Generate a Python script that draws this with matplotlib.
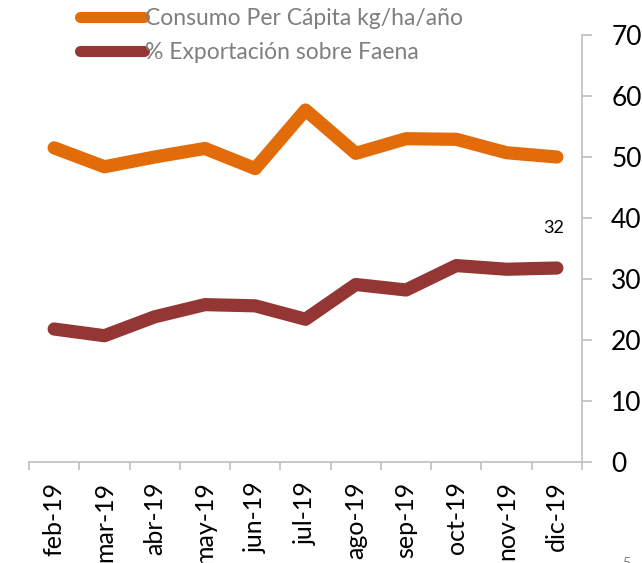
import matplotlib
matplotlib.use("Agg")
import matplotlib.pyplot as plt
import numpy as np

plt.rcParams['font.family'] = ['Lato', 'DejaVu Sans']

months = ["feb-19", "mar-19", "abr-19", "may-19", "jun-19", "jul-19",
          "ago-19", "sep-19", "oct-19", "nov-19", "dic-19"]
consumo = [51.5, 48.4, 50.0, 51.4, 48.1, 57.7, 50.6, 53.0, 52.9, 50.7, 50.0]
export_pct = [21.8, 20.7, 23.8, 25.8, 25.6, 23.4, 29.1, 28.2, 32.2, 31.6, 31.8]
label_consumo = "Consumo Per Cápita kg/ha/año"
label_export = "% Exportación sobre Faena"
last_label = "32"

ORANGE = "#E36C0A"
RED = "#943634"
GRAY = "#BFBFBF"

W, H = 642, 563
fig = plt.figure(figsize=(W / 100, H / 100), dpi=100)
ax = fig.add_axes([29 / W, 1 - 462 / H, (582 - 29) / W, (462 - 35) / H])

x = np.arange(len(months))
lw = 9.5
ax.plot(x, consumo, color=ORANGE, lw=lw, solid_capstyle='round',
        solid_joinstyle='round', label=label_consumo)
ax.plot(x, export_pct, color=RED, lw=lw, solid_capstyle='round',
        solid_joinstyle='round', label=label_export)

ax.annotate(last_label, (x[-1], export_pct[-1]), xytext=(-2, 29),
            textcoords='offset points', ha='center', va='center', fontsize=13,
            color='black')

ax.set_xlim(-0.5, len(months) - 0.5)
ax.set_ylim(0, 70)
ax.set_yticks(np.arange(0, 71, 10))

ax.yaxis.tick_right()
ax.tick_params(axis='y', which='major', length=7, width=1.2, color=GRAY,
               labelsize=19, pad=14, labelcolor='black')

ax.set_xticks(np.arange(-0.5, len(months), 1.0))
ax.set_xticklabels([])
ax.set_xticks(x, minor=True)
ax.set_xticklabels(months, minor=True, rotation=90, fontsize=18)
ax.tick_params(axis='x', which='major', length=6, width=1.2, color=GRAY)
ax.tick_params(axis='x', which='minor', length=0, pad=14)

for s in ['top', 'left']:
    ax.spines[s].set_visible(False)
for s in ['right', 'bottom']:
    ax.spines[s].set_color(GRAY)
    ax.spines[s].set_linewidth(1.2)

leg = ax.legend(loc='upper left', bbox_to_anchor=(80 / W, 1 - 8 / H),
                bbox_transform=fig.transFigure, frameon=False, fontsize=16.5,
                handlelength=2.8, handletextpad=0.05, labelspacing=0.55,
                borderpad=0, borderaxespad=0)
for t in leg.get_texts():
    t.set_color('#7F7F7F')
for l in leg.get_lines():
    l.set_linewidth(8)

fig.text(622 / W, -6 / H, "5", fontsize=10, color='#7F7F7F', ha='left', va='bottom')

fig.savefig("out.png", dpi=100)
